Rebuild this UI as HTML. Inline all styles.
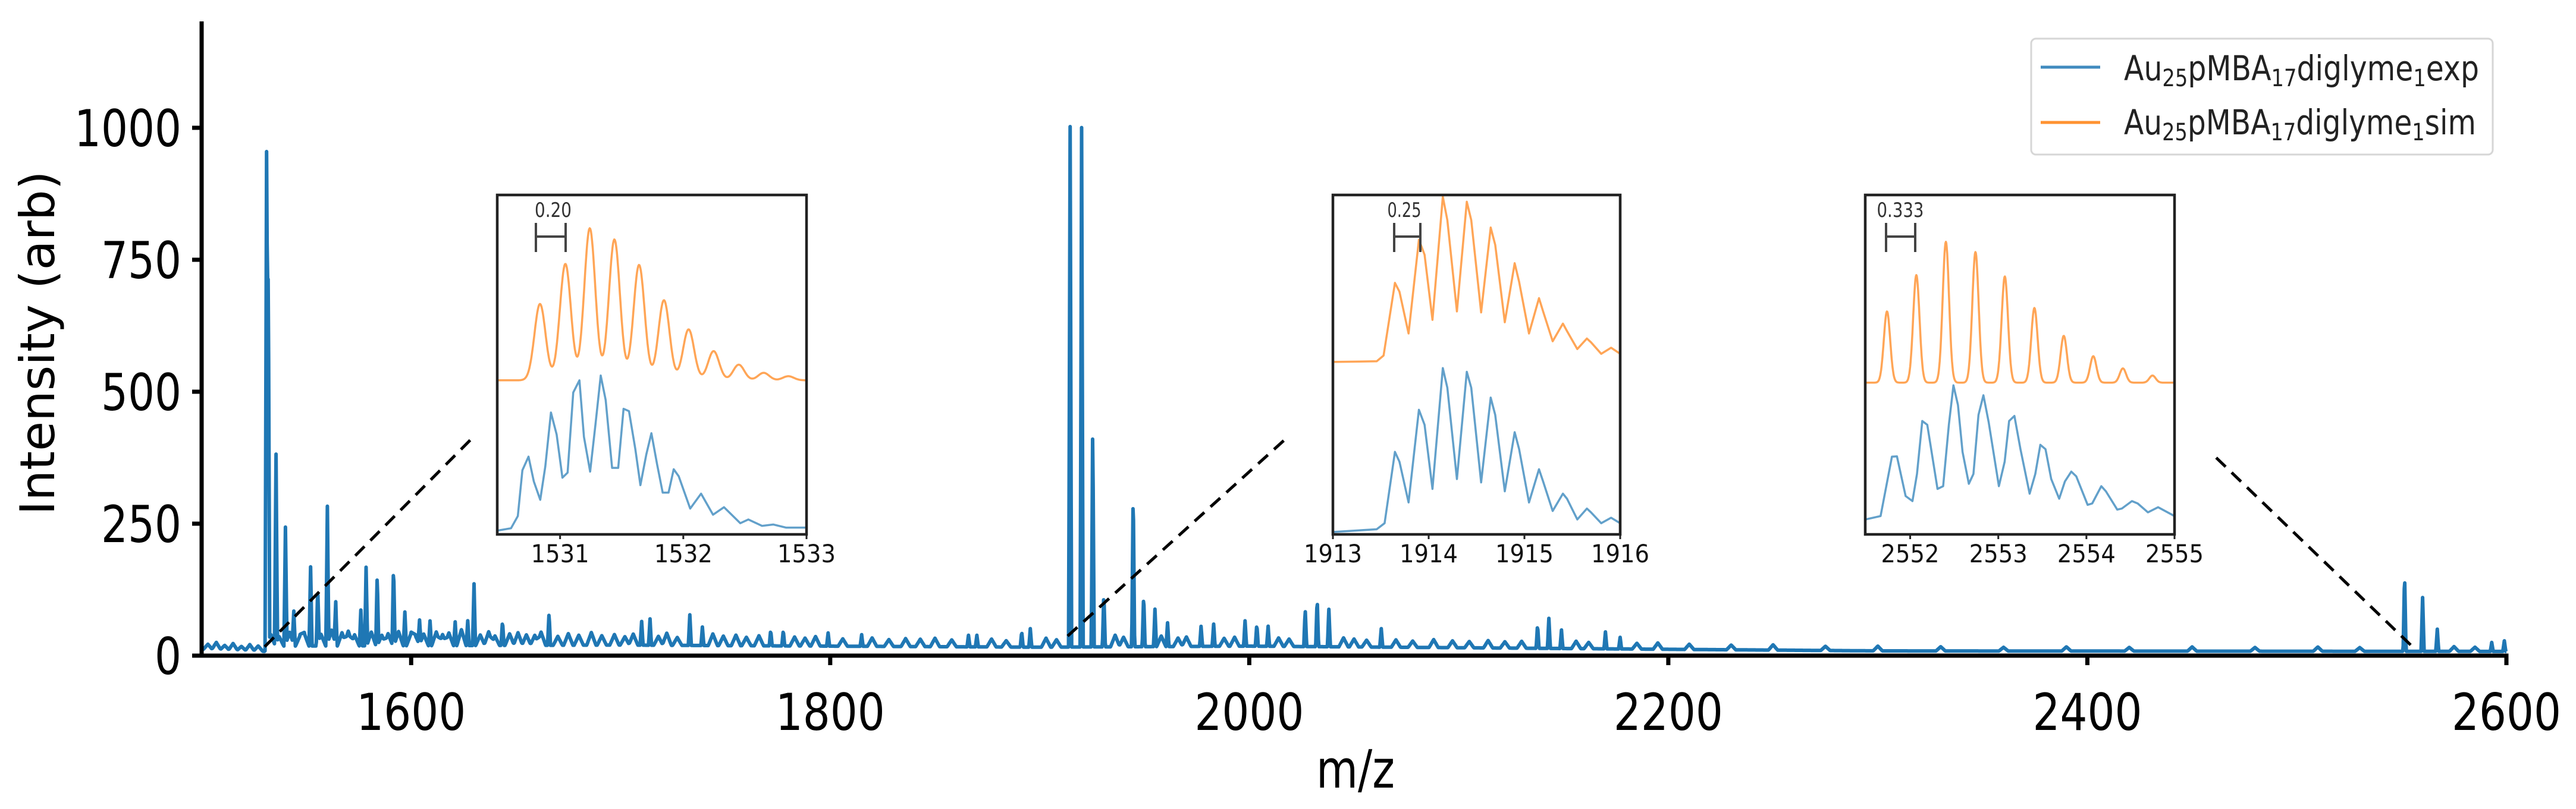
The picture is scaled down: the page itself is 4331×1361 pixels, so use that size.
<!DOCTYPE html>
<html><head><meta charset="utf-8"><title>Mass spectrum</title>
<style>html,body{margin:0;padding:0;background:#fff;}svg{display:block;}</style></head>
<body>
<svg id="chart" xmlns="http://www.w3.org/2000/svg" width="4331" height="1361" viewBox="0 0 4331 1361" font-family="'DejaVu Sans','Liberation Sans',sans-serif">
<rect width="4331" height="1361" fill="#fff"/>
<g id="main-lines"></g>
<g id="axes"></g>
<g id="connectors"></g>
<g id="insets"></g>
<g id="legend">
  <rect x="3415" y="65" width="776" height="195" rx="8" fill="#fff" stroke="#d6d6d6" stroke-width="3"/>
  <line x1="3431" y1="113" x2="3531" y2="113" stroke="#1f77b4" stroke-width="5" opacity="0.85"/>
  <text x="3571" y="135" font-size="58" fill="#222" textLength="597" lengthAdjust="spacingAndGlyphs">Au<tspan font-size="40" dy="10">25</tspan><tspan dy="-10">pMBA</tspan><tspan font-size="40" dy="10">17</tspan><tspan dy="-10">diglyme</tspan><tspan font-size="40" dy="10">1</tspan><tspan dy="-10">exp</tspan></text>
  <line x1="3431" y1="206" x2="3531" y2="206" stroke="#ff7f0e" stroke-width="5" opacity="0.85"/>
  <text x="3571" y="226" font-size="58" fill="#222" textLength="592" lengthAdjust="spacingAndGlyphs">Au<tspan font-size="40" dy="10">25</tspan><tspan dy="-10">pMBA</tspan><tspan font-size="40" dy="10">17</tspan><tspan dy="-10">diglyme</tspan><tspan font-size="40" dy="10">1</tspan><tspan dy="-10">sim</tspan></text>
</g>
</svg>
<script>
// ---------- main spectrum data ----------
const xTicks = [1600, 1800, 2000, 2200, 2400, 2600];
const yTicks = [0, 250, 500, 750, 1000];
const peakMz = [1531.0,1531.8,1535.5,1540,1544,1552,1555.4,1560,1564,1576,1578.5,1583.8,1591.6,1597,1604,1609,1621,1627,1630,1643.6,1665.8,1710,1714,1733,1739,1771.6,1777.6,1799,1815,1866,1870,1891.4,1895.5,1914.5,1920,1925.3,1930.6,1944.6,1949.6,1955,1961,1977,1983,1998,2003.6,2009,2026.7,2032.4,2038,2063,2137.6,2143,2149,2170,2177,2551.4,2560,2567,2593,2599];
const peakI = [940,740,358,223,64,150,104,262,81,68,149,134,155,64,45,47,45,47,117,47,61,45,50,58,35,30,30,25,22,22,22,30,35,986,984,424,104,305,100,71,45,38,42,48,42,38,71,93,71,35,45,57,35,32,22,151,102,42,17,20];
const noiseMz = [1503,1507,1511,1515,1519,1523,1527,1533,1537,1542,1547,1549,1557,1562,1567,1570,1573,1581,1586,1589,1594,1600,1602,1606,1612,1615,1618,1624,1633,1637,1640,1647,1651,1655,1659,1662,1670,1675,1680,1686,1691,1697,1702,1706,1718,1722,1727,1744,1749,1755,1760,1766,1783,1788,1793,1806,1820,1828,1836,1843,1850,1858,1877,1884,1903,1908,1936,1940,1958,1966,1970,1988,1993,2014,2019,2045,2050,2056,2070,2078,2088,2097,2105,2114,2122,2130,2156,2162,2185,2195,2210,2230,2250,2275,2300,2330,2360,2390,2420,2450,2480,2510,2530,2575,2585];
const noiseI = [10,14,9,13,8,12,10,22,18,26,20,24,22,30,25,28,21,26,20,23,27,24,19,22,26,21,24,30,20,26,18,22,24,20,19,25,17,22,19,24,18,20,16,21,17,23,15,22,18,20,16,19,17,15,18,14,16,13,15,14,16,13,15,12,17,14,22,18,20,16,18,15,17,16,14,17,15,13,14,12,15,13,12,14,12,13,14,12,11,12,10,9,10,8,9,8,7,8,7,8,7,8,7,9,8];
const baseMz = [1500,1530,1532,1700,1900,2000,2200,2300,2600];
const baseI = [12,8,18,20,16,18,12,9,8];

// ---------- inset data ----------
const inset1SimMz = [1530.837,1531.043,1531.241,1531.441,1531.641,1531.843,1532.043,1532.246,1532.450,1532.652,1532.852];
const inset1SimI = [22.5,34.3,44.8,41.5,34.0,23.6,15.0,8.6,4.6,2.2,1.2];
const inset1SimBase = 45.4;
const inset1ExpMz = [1530.49,1530.602,1530.657,1530.694,1530.744,1530.787,1530.839,1530.880,1530.926,1530.972,1531.019,1531.061,1531.107,1531.157,1531.194,1531.244,1531.287,1531.330,1531.370,1531.422,1531.472,1531.515,1531.559,1531.611,1531.652,1531.700,1531.741,1531.787,1531.833,1531.880,1531.922,1531.963,1532.056,1532.144,1532.241,1532.330,1532.463,1532.528,1532.639,1532.731,1532.833,1533.0];
const inset1ExpI = [1.1,1.8,5.4,18.9,22.9,15.6,10.2,20.0,35.9,29.4,16.7,18.2,41.8,45.4,28.7,18.5,32.3,46.8,39.6,19.6,19.6,37.0,36.3,25.1,14.5,23.6,29.8,20.7,12.3,12.3,19.2,17.1,7.6,12.0,5.8,8.0,3.3,4.4,2.5,2.9,2.0,2.0];

const inset2SimMz = [1913.0,1913.457,1913.529,1913.648,1913.695,1913.790,1913.898,1913.957,1914.040,1914.148,1914.195,1914.295,1914.398,1914.445,1914.548,1914.648,1914.695,1914.795,1914.898,1914.945,1915.048,1915.152,1915.195,1915.295,1915.402,1915.445,1915.552,1915.652,1915.695,1915.802,1915.905,1916.0];
const inset2SimI = [50.8,51.0,52.7,74.1,71.5,59.2,86.8,82.4,63.2,99.5,92.6,65.7,98.0,92.6,65.4,90.4,85.3,62.5,79.9,74.4,59.2,69.6,65.7,56.9,62.1,59.9,54.6,57.7,56.6,53.2,55.0,53.2];
const inset2ExpMz = [1913.0,1913.457,1913.540,1913.648,1913.695,1913.790,1913.898,1913.957,1914.040,1914.148,1914.195,1914.295,1914.398,1914.445,1914.548,1914.648,1914.695,1914.795,1914.898,1914.945,1915.048,1915.152,1915.195,1915.295,1915.402,1915.445,1915.552,1915.652,1915.695,1915.802,1915.905,1916.0];
const inset2ExpI = [0.7,1.5,3.3,24.3,21.4,9.4,36.7,32.3,13.4,49.0,43.2,16.3,47.9,43.2,15.3,40.3,35.2,12.7,30.1,25.1,9.4,19.2,15.6,6.9,12.0,10.5,4.4,7.6,6.5,3.3,4.9,3.3];

const inset3SimMz = [2551.737,2552.070,2552.405,2552.741,2553.074,2553.410,2553.743,2554.078,2554.414,2554.750];
const inset3SimI = [21.0,31.7,41.5,38.5,31.3,22.0,13.8,7.8,4.2,2.1];
const inset3SimBase = 44.7;
const inset3ExpMz = [2551.491,2551.664,2551.729,2551.793,2551.850,2551.948,2552.026,2552.077,2552.137,2552.194,2552.310,2552.374,2552.439,2552.491,2552.542,2552.594,2552.666,2552.718,2552.775,2552.831,2552.891,2553.007,2553.072,2553.123,2553.183,2553.252,2553.356,2553.420,2553.477,2553.536,2553.601,2553.691,2553.756,2553.828,2553.885,2554.014,2554.066,2554.169,2554.221,2554.350,2554.401,2554.517,2554.582,2554.698,2554.814,2554.892,2555.0];
const inset3ExpI = [4.4,5.4,14.2,22.9,23.0,11.3,9.8,17.8,33.4,32.3,13.4,14.2,32.3,43.9,38.1,24.3,14.9,17.8,35.2,41.0,33.0,14.2,21.4,33.4,34.9,25.1,12.0,17.8,26.4,25.1,16.3,10.5,15.6,18.5,17.1,8.7,9.1,14.2,12.7,7.3,7.6,9.8,9.1,6.5,8.0,6.9,5.4];

const inset1Ticks = [1531,1532,1533];
const inset2Ticks = [1913,1914,1915,1916];
const inset3Ticks = [2552,2553,2554,2555];

// ---------- rendering ----------
const NS = 'http://www.w3.org/2000/svg';
function mk(tag, attrs, parent){ const e=document.createElementNS(NS,tag); for(const k in attrs) e.setAttribute(k,attrs[k]); parent.appendChild(e); return e; }
const X0=339, X1=4214, XMIN=1500, XMAX=2600, Y0=1103, YK=0.888;
const xs = m => X0 + (m-XMIN)*(X1-X0)/(XMAX-XMIN);
const ys = v => Y0 - v*YK;
function interp(arrX, arrY, x){ if(x<=arrX[0]) return arrY[0]; for(let i=1;i<arrX.length;i++){ if(x<=arrX[i]){ const t=(x-arrX[i-1])/(arrX[i]-arrX[i-1]); return arrY[i-1]+t*(arrY[i]-arrY[i-1]); } } return arrY[arrY.length-1]; }

// main spectrum
(function(){
  const g=document.getElementById('main-lines');
  let d='';
  for(let m=XMIN; m<=XMAX+1e-9; m+=0.25){
    let v=interp(baseMz, baseI, m);
    for(let i=0;i<peakMz.length;i++){ const dd=Math.abs(m-peakMz[i]); if(dd<0.7) v+=peakI[i]*(1-dd/0.7); }
    for(let i=0;i<noiseMz.length;i++){ const dd=Math.abs(m-noiseMz[i]); if(dd<2.2) v+=noiseI[i]*(1-dd/2.2); }
    d+=(d?'L':'M')+xs(m).toFixed(1)+' '+ys(v).toFixed(1);
  }
  const p=mk('path',{d:d,fill:'none',stroke:'#1f77b4','stroke-width':6,'stroke-linejoin':'round'},g);
  
  
})();

// axes
(function(){
  const g=document.getElementById('axes');
  const l=mk('line',{x1:X0,y1:36,x2:X0,y2:Y0+3.5,stroke:'#000','stroke-width':7},g);
  
  
  const b=mk('line',{x1:X0-3.5,y1:Y0,x2:X1+3.5,y2:Y0,stroke:'#000','stroke-width':7},g);
  
  
  xTicks.forEach(t=>{
    const tk=mk('line',{x1:xs(t),y1:Y0,x2:xs(t),y2:Y0+16,stroke:'#000','stroke-width':7},g);
    
    
    const tx=mk('text',{x:xs(t),y:1228,'font-size':86,'text-anchor':'middle',fill:'#000',textLength:184,lengthAdjust:'spacingAndGlyphs'},g);
    tx.textContent=t;
    
    
  });
  yTicks.forEach(t=>{
    const tk=mk('line',{x1:X0-16,y1:ys(t),x2:X0,y2:ys(t),stroke:'#000','stroke-width':7},g);
    
    
    const s=String(t);
    const tx=mk('text',{x:305,y:ys(t)+31,'font-size':86,'text-anchor':'end',fill:'#000',textLength:(s.length*45),lengthAdjust:'spacingAndGlyphs'},g);
    tx.textContent=s;
    
    
  });
  const xt=mk('text',{x:2279,y:1325,'font-size':88,'text-anchor':'middle',fill:'#000',textLength:132,lengthAdjust:'spacingAndGlyphs'},g);
  xt.textContent='m/z';
  
  
  const yt=mk('text',{x:0,y:0,'font-size':80,'text-anchor':'middle',fill:'#000',transform:'translate(91,577) rotate(-90)',textLength:579,lengthAdjust:'spacingAndGlyphs'},g);
  yt.textContent='Intensity (arb)';
  
  
})();

// connectors
(function(){
  const g=document.getElementById('connectors');
  const segs=[[445,1088,794,737],[1795,1070,2163,737],[4053,1085,3724,768]];
  segs.forEach(s=>{
    const l=mk('line',{x1:s[0],y1:s[1],x2:s[2],y2:s[3],stroke:'#000','stroke-width':5,'stroke-dasharray':'22 14'},g);
    
    
  });
})();

// insets
function drawInset(cfg){
  const g=mk('g',{},document.getElementById('insets'));
  
  
  const {bx0,bx1,by0,by1,d0,d1}=cfg;
  const ix=m=>bx0+(m-d0)*(bx1-bx0)/(d1-d0);
  const iy=v=>by1-v/100*(by1-by0);
  mk('rect',{x:bx0,y:by0,width:bx1-bx0,height:by1-by0,fill:'#fff'},g);
  let d='';
  if(cfg.simPeaksMz){
    for(let m=d0;m<=d1+1e-9;m+=0.005){
      let v=cfg.simBase;
      for(let i=0;i<cfg.simPeaksMz.length;i++){ const dd=m-cfg.simPeaksMz[i]; v+=cfg.simPeaksI[i]*Math.exp(-dd*dd/(2*cfg.sig*cfg.sig)); }
      d+=(d?'L':'M')+ix(m).toFixed(1)+' '+iy(v).toFixed(1);
    }
  } else {
    cfg.simMz.forEach((m,i)=>{ d+=(i?'L':'M')+ix(m).toFixed(1)+' '+iy(cfg.simI[i]).toFixed(1); });
  }
  const sp=mk('path',{d:d,fill:'none',stroke:'#ff7f0e','stroke-width':3.5,opacity:0.7,'stroke-linejoin':'round'},g);
  
  
  let e='';
  cfg.expMz.forEach((m,i)=>{ e+=(i?'L':'M')+ix(m).toFixed(1)+' '+iy(cfg.expI[i]).toFixed(1); });
  const ep=mk('path',{d:e,fill:'none',stroke:'#1f77b4','stroke-width':3.5,opacity:0.7,'stroke-linejoin':'round'},g);
  
  
  const fr=mk('rect',{x:bx0,y:by0,width:bx1-bx0,height:by1-by0,fill:'none',stroke:'#222','stroke-width':4.5},g);
  
  
  cfg.ticks.forEach(t=>{
    const tk=mk('line',{x1:ix(t),y1:by1,x2:ix(t),y2:by1+8,stroke:'#222','stroke-width':3},g);
    
    
    const tx=mk('text',{x:ix(t),y:946,'font-size':42,'text-anchor':'middle',fill:'#111',textLength:98,lengthAdjust:'spacingAndGlyphs'},g);
    tx.textContent=t;
    
    
  });
  const sb=cfg.bar;
  const bg=mk('g',{stroke:'#444','stroke-width':4},g);
  
  
  mk('line',{x1:sb[0],y1:398,x2:sb[1],y2:398},bg);
  mk('line',{x1:sb[0],y1:375,x2:sb[0],y2:424},bg);
  mk('line',{x1:sb[1],y1:375,x2:sb[1],y2:424},bg);
  const bt=mk('text',{x:sb[2],y:365,'font-size':34,'text-anchor':'middle',fill:'#333',textLength:sb[3],lengthAdjust:'spacingAndGlyphs'},g);
  bt.textContent=cfg.barLabel;
  
  
}
drawInset({name:'inset-1531',bx0:836,bx1:1356,by0:328,by1:899,d0:1530.49,d1:1533.0,simPeaksMz:inset1SimMz,simPeaksI:inset1SimI,simBase:inset1SimBase,sig:0.045,expMz:inset1ExpMz,expI:inset1ExpI,ticks:inset1Ticks,bar:[901,951,930,62],barLabel:'0.20'});
drawInset({name:'inset-1914',bx0:2241,bx1:2724,by0:328,by1:899,d0:1913,d1:1916,simMz:inset2SimMz,simI:inset2SimI,expMz:inset2ExpMz,expI:inset2ExpI,ticks:inset2Ticks,bar:[2344,2388,2361,57],barLabel:'0.25'});
drawInset({name:'inset-2553',bx0:3136,bx1:3656,by0:328,by1:899,d0:2551.49,d1:2555.0,simPeaksMz:inset3SimMz,simPeaksI:inset3SimI,simBase:inset3SimBase,sig:0.036,expMz:inset3ExpMz,expI:inset3ExpI,ticks:inset3Ticks,bar:[3171,3220,3195,79],barLabel:'0.333'});
</script>
</body></html>
